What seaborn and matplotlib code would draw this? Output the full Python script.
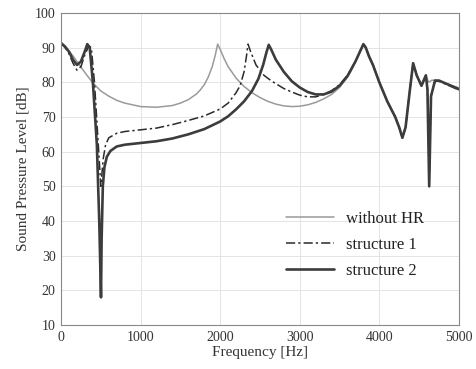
import matplotlib
import matplotlib.pyplot as plt
import pandas as pd
import seaborn as sns

matplotlib.use("Agg")

# ---------------------------------------------------------------------------
# Data (frequency in Hz, SPL in dB)
# ---------------------------------------------------------------------------
TAIL_F = [3830, 3870, 3920, 4000, 4100, 4200, 4250, 4290, 4330, 4380, 4425,
          4470, 4530, 4585]
TAIL_V = [90, 87.5, 85, 80, 74.5, 70, 67, 64, 67, 77, 85.5,
          82, 79, 82]

without_f = [0, 50, 100, 150, 200, 250, 300, 400, 500, 600, 700, 800, 1000,
             1200, 1400, 1500, 1600, 1700, 1750, 1800, 1850, 1900, 1940, 1968,
             2000, 2050, 2100, 2200, 2300, 2400, 2500, 2600, 2700, 2800, 2900,
             3000, 3100, 3200, 3300, 3400, 3500, 3600, 3650, 3700, 3750, 3800] \
    + TAIL_F + [4620, 4660, 4700, 4750, 4800, 4900, 5000]
without_v = [91.3, 90.3, 89, 87.6, 86, 84.4, 82.8, 79.8, 77.5, 76, 74.8, 74,
             73, 72.8, 73.3, 74, 75, 76.6, 77.8, 79.3, 81.5, 84.5, 88, 91,
             89.5, 86.8, 84.5, 81.2, 78.8, 77, 75.6, 74.5, 73.7, 73.2, 73,
             73.1, 73.5, 74.2, 75.2, 76.5, 78.5, 81.5, 83.5, 86, 88.5, 91] \
    + TAIL_V + [80, 80.6, 80.6, 80.3, 80, 79.2, 78.4]

s1_f = [0, 50, 100, 150, 200, 250, 300, 350, 380, 420, 460, 500, 530, 560,
        600, 700, 800, 1000, 1200, 1400, 1600, 1800, 1900, 2000, 2100, 2200,
        2250, 2300, 2330, 2350, 2380, 2450, 2550, 2650, 2800, 2900, 3000,
        3100, 3200, 3300, 3400, 3500, 3600, 3700, 3750, 3800] \
    + TAIL_F + [4605, 4627, 4650, 4700, 4750, 4800, 4900, 5000]
s1_v = [91.3, 90, 88.2, 85.5, 83.5, 84.5, 88, 90.5, 90, 80, 65, 50, 58, 62,
        64, 65.3, 65.8, 66.3, 66.8, 67.8, 69, 70.3, 71.3, 72.3, 74, 77,
        79, 83, 87.5, 91, 89, 85, 82, 80.3, 78.2, 77.2, 76.3,
        75.8, 75.8, 76.5, 77.6, 79.3, 82, 86, 88.5, 91] \
    + TAIL_V + [78, 52, 76, 80.3, 80.3, 79.8, 78.8, 77.8]

s2_f = [0, 50, 100, 150, 200, 250, 300, 330, 360, 400, 450, 480, 495, 502,
        510, 525, 545, 575, 620, 700, 800, 1000, 1200, 1400, 1600, 1800,
        2000, 2100, 2200, 2300, 2400, 2480, 2540, 2580, 2610, 2640, 2700,
        2800, 2900, 3000, 3100, 3200, 3300, 3400, 3500, 3600, 3700, 3750,
        3800] \
    + TAIL_F + [4605, 4627, 4650, 4700, 4750, 4800, 4900, 5000]
s2_v = [91.3, 90.3, 88.8, 86.5, 85, 86, 89, 91, 90, 80, 62, 40, 25, 18,
        35, 50, 55.5, 58.5, 60.2, 61.5, 62, 62.5, 63, 63.8, 65, 66.5,
        68.7, 70.2, 72.2, 74.5, 77.5, 81, 85, 88.5, 90.8, 89.5, 86.5,
        83, 80.3, 78.5, 77.2, 76.5, 76.5, 77.3, 79, 81.8, 86, 88.5,
        91] \
    + TAIL_V + [78, 50, 76, 80.5, 80.5, 80, 79, 78]

SERIES = [
    ("without HR", without_f, without_v, dict(color="#9a9a9a", lw=1.1, ls="-")),
    ("structure 1", s1_f, s1_v, dict(color="#2a2a2a", lw=1.1, ls=(0, (6, 2, 1.5, 2)))),
    ("structure 2", s2_f, s2_v, dict(color="#3c3c3c", lw=1.9, ls="-")),
]

X_TICKS = [0, 1000, 2000, 3000, 4000, 5000]
Y_TICKS = [10, 20, 30, 40, 50, 60, 70, 80, 90, 100]

# ---------------------------------------------------------------------------
# Plot
# ---------------------------------------------------------------------------
sns.set_style("white")
plt.rcParams["font.family"] = ["Liberation Serif", "DejaVu Serif"]

fig = plt.figure(figsize=(4.77, 3.69), dpi=100)
ax = fig.add_axes([0.128, 0.119, 0.834, 0.846])

for label, f, v, style in SERIES:
    df = pd.DataFrame({"f": f, "v": v})
    sns.lineplot(data=df, x="f", y="v", ax=ax, label=label, sort=False,
                 color=style["color"], linewidth=style["lw"],
                 linestyle=style["ls"], estimator=None)

ax.set_xlim(0, 5000)
ax.set_ylim(10, 100)
ax.set_xticks(X_TICKS)
ax.set_yticks(Y_TICKS)
ax.grid(True, color="#e4e4e4", linewidth=0.7)
ax.tick_params(direction="in", length=3, labelsize=10, colors="#333333",
               labelcolor="#333333", pad=4)
for sp in ax.spines.values():
    sp.set_color("#888888")
    sp.set_linewidth(0.8)

ax.set_xlabel("Frequency [Hz]", fontsize=11, color="#333333", labelpad=2)
ax.set_ylabel("Sound Pressure Level [dB]", fontsize=11, color="#333333",
              labelpad=4)

leg = ax.legend(loc="lower right", bbox_to_anchor=(0.95, 0.1), frameon=False,
                fontsize=12, handlelength=2.9, labelspacing=0.6,
                handletextpad=0.7)
for t in leg.get_texts():
    t.set_color("#222222")

fig.savefig("out.png", dpi=100)
